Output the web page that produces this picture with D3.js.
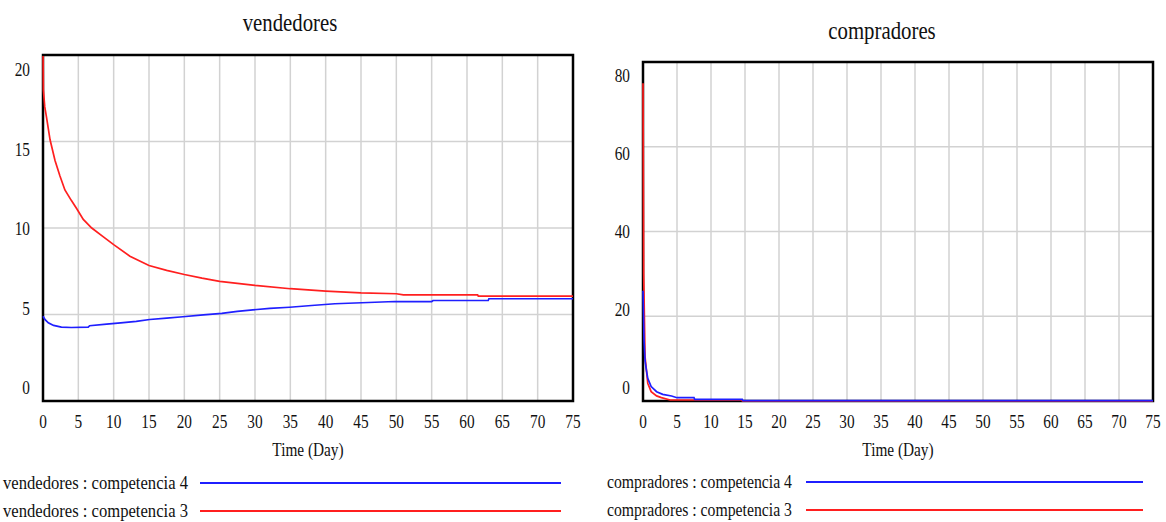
<!DOCTYPE html>
<html><head><meta charset="utf-8">
<script src="https://cdn.jsdelivr.net/npm/d3@7/dist/d3.min.js"></script>
<style>body{margin:0;background:#fff}svg{display:block}text{font-family:"Liberation Serif","Times New Roman",serif;fill:#111}</style>
</head><body>
<svg id="c" width="1166" height="522"></svg>
<script>
// ---- data ----
const timeTicks = [0,5,10,15,20,25,30,35,40,45,50,55,60,65,70,75];
const vendTicks = [0,5,10,15,20];
const compTicks = [0,20,40,60,80];

const vend3Time = [0,0.05,0.25,0.5,1,1.7,2.4,3.1,4,4.8,5.7,6.9,8.5,10,12.3,15,17.5,20,22.5,25,27.5,30,35,40,45,50,51,61.5,61.6,75];
const vend3Vals = [20.5,18.0,17.0,16.4,15.1,13.9,13.0,12.2,11.6,11.1,10.5,10.0,9.5,9.04,8.37,7.83,7.55,7.31,7.1,6.92,6.8,6.68,6.49,6.35,6.25,6.2,6.14,6.14,6.06,6.06];
const vend4Time = [0,0.3,0.75,1.5,2.6,4,6.4,6.6,9,11,13.2,15.1,17.5,19.8,22.7,25.3,27.5,29.7,32.1,34.9,38,41.3,45.1,49.8,55,55.2,63,63.1,75];
const vend4Vals = [4.9,4.7,4.52,4.37,4.27,4.25,4.27,4.35,4.44,4.52,4.6,4.71,4.79,4.87,4.98,5.06,5.18,5.27,5.35,5.42,5.52,5.62,5.68,5.75,5.75,5.81,5.81,5.91,5.91];

const comp4Time = [0,0.15,0.3,0.5,0.7,1.2,2,2.9,4.2,5,7.5,7.6,14.6,14.7,75];
const comp4Vals = [26,14.4,9.5,7.3,5.35,3.4,2.2,1.57,1.18,0.78,0.78,0.4,0.4,0.1,0.1];
const comp3Time = [0,0.1,0.3,0.7,1.2,2,2.7,4,14.5,14.6,75];
const comp3Vals = [75,30,10.5,4.2,2.2,1.2,0.8,0.24,0.24,0.05,0.05];

const titles = ["vendedores","compradores"];
const legendNames = [["vendedores : competencia 4","vendedores : competencia 3"],["compradores : competencia 4","compradores : competencia 3"]];
const xTitle = "Time (Day)";
const BLUE = "#1f1fff", RED = "#ff1f1f";

const svg = d3.select("#c");

function condense(sel, f){
  sel.each(function(){ const L=this.getComputedTextLength(); d3.select(this).attr("textLength",L*f).attr("lengthAdjust","spacingAndGlyphs"); });
}

function panel(cfg){
  const g = svg.append("g");
  const x = d3.scaleLinear().domain([0,75]).range([cfg.left,cfg.right]);
  const y = d3.scaleLinear().domain([0,cfg.ymax]).range([cfg.bottom,cfg.top]);
  const yl = d3.scaleLinear().domain([0,cfg.ymax]).range(cfg.labelRange);
  // grid
  g.selectAll(".vg").data(timeTicks.slice(1,-1)).join("line")
    .attr("x1",d=>x(d)).attr("x2",d=>x(d)).attr("y1",cfg.top).attr("y2",cfg.bottom)
    .attr("stroke","#d2d2d2").attr("stroke-width",1.5);
  g.selectAll(".hg").data(cfg.yticks.slice(1,-1)).join("line")
    .attr("x1",cfg.left).attr("x2",cfg.right).attr("y1",d=>y(d)).attr("y2",d=>y(d))
    .attr("stroke","#d2d2d2").attr("stroke-width",1.5);
  // clip
  const cid = "clip"+cfg.id;
  svg.append("clipPath").attr("id",cid).append("rect")
    .attr("x",cfg.left-2).attr("y",cfg.top+1).attr("width",cfg.right-cfg.left+2).attr("height",cfg.bottom-cfg.top);
  const line = d3.line().x(d=>x(d[0])).y(d=>y(d[1]));
  // frame
  g.append("rect").attr("x",cfg.left).attr("y",cfg.top).attr("width",cfg.right-cfg.left).attr("height",cfg.bottom-cfg.top)
    .attr("fill","none").attr("stroke","#000").attr("stroke-width",2.5);
  cfg.series.slice().reverse().forEach(s=>{
    g.append("path").attr("clip-path",`url(#${cid})`).attr("d",line(d3.zip(s.t,s.v)))
      .attr("fill","none").attr("stroke",s.color).attr("stroke-width",1.7);
  });
  // y labels
  g.selectAll(".yl").data(cfg.yticks).join("text")
    .attr("x",cfg.left-13).attr("y",d=>yl(d)).attr("dy","0.35em").attr("text-anchor","end")
    .attr("font-size",18).text(d=>d).call(condense,0.85);
  // x labels
  g.selectAll(".xl").data(timeTicks).join("text")
    .attr("x",d=>x(d)).attr("y",cfg.bottom+21).attr("dy","0.35em").attr("text-anchor","middle")
    .attr("font-size",18).text(d=>d).call(condense,0.85);
  g.append("text").attr("x",(cfg.left+cfg.right)/2).attr("y",cfg.bottom+55).attr("text-anchor","middle")
    .attr("font-size",18).text(xTitle).call(condense,0.85);
  g.append("text").attr("x",cfg.titleX).attr("y",cfg.titleY).attr("text-anchor","middle")
    .attr("font-size",26).text(cfg.title).call(condense,0.8);
  // legend
  cfg.series.forEach((s,i)=>{
    const ly = cfg.legY + i*28;
    g.append("text").attr("x",cfg.legX).attr("y",ly).attr("dy","0.33em").attr("font-size",18)
      .text(s.name).attr("textLength",cfg.legW).attr("lengthAdjust","spacingAndGlyphs");
    g.append("line").attr("x1",cfg.legL1).attr("x2",cfg.legL2).attr("y1",ly).attr("y2",ly)
      .attr("stroke",s.color).attr("stroke-width",1.8);
  });
}

panel({id:1,left:43,right:573,top:55,bottom:401,ymax:20,yticks:vendTicks,labelRange:[388,70],
  title:titles[0],titleX:290,titleY:31,legX:3,legW:185,legL1:200,legL2:561,legY:483,
  series:[{t:vend4Time,v:vend4Vals,color:BLUE,name:legendNames[0][0]},{t:vend3Time,v:vend3Vals,color:RED,name:legendNames[0][1]}]});
panel({id:2,left:643,right:1153,top:62,bottom:401,ymax:80,yticks:compTicks,labelRange:[388,76],
  title:titles[1],titleX:882,titleY:39,legX:607,legW:185,legL1:806,legL2:1143,legY:482,
  series:[{t:comp4Time,v:comp4Vals,color:BLUE,name:legendNames[1][0]},{t:comp3Time,v:comp3Vals,color:RED,name:legendNames[1][1]}]});
</script>
</body></html>
